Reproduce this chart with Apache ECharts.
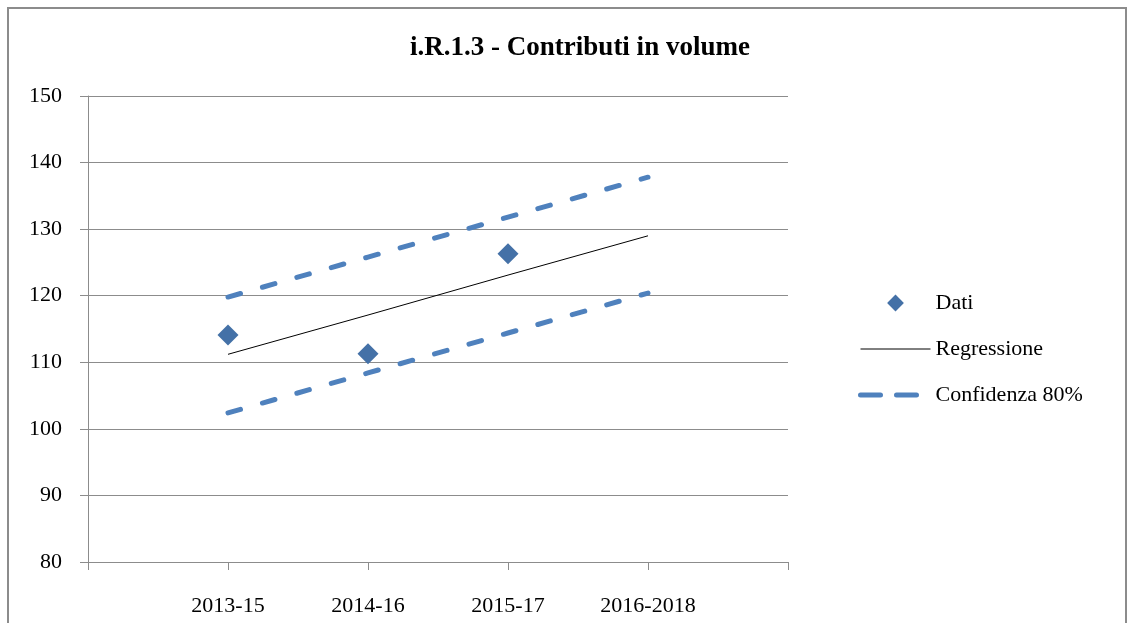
<!DOCTYPE html>
<html>
<head>
<meta charset="utf-8">
<script src="https://cdn.jsdelivr.net/npm/echarts@6/dist/echarts.min.js"></script>
<style>
  html, body { margin: 0; padding: 0; background: #fff; }
  #main { width: 1133px; height: 623px; }
</style>
</head>
<body>
<div id="main"></div>
<script>
// dati
var periodi = ['2013-15', '2014-16', '2015-17', '2016-2018'];
var dati = [114.1, 111.3, 126.3];
var regressione = [111.2, 117.1, 123.1, 129.0];
var confSup = [119.8, 125.8, 131.8, 137.8];
var confInf = [102.4, 108.4, 114.4, 120.4];

// asse con una posizione vuota ai due lati
var assiX = [''].concat(periodi).concat(['']);
function pad (arr) {
  var out = [null].concat(arr);
  while (out.length < assiX.length) out.push(null);
  return out;
}

var myChart = echarts.init(document.getElementById('main'));

var font = 'Liberation Serif';
var blu = '#4F81BD';

var option = {
  animation: false,
  title: {
    text: 'i.R.1.3 - Contributi in volume',
    left: 575,
    textAlign: 'center',
    top: 30,
    textStyle: { fontFamily: font, fontSize: 27, fontWeight: 'bold', color: '#000' }
  },
  graphic: [{
    type: 'rect',
    shape: { x: 8, y: 8, width: 1118, height: 640 },
    style: { fill: 'none', stroke: '#8c8c8c', lineWidth: 2 },
    silent: true
  }],
  legend: {
    orient: 'vertical',
    left: 853,
    top: 287,
    itemWidth: 70,
    itemHeight: 21,
    itemGap: 24,
    textStyle: { fontFamily: font, fontSize: 22, color: '#000', padding: [0, 0, 0, 0] },
    data: [
      { name: 'Dati' },
      { name: 'Regressione', itemStyle: { opacity: 0 }, lineStyle: { width: 1 } },
      { name: 'Confidenza 80%', itemStyle: { opacity: 0 },
        lineStyle: { width: 5, type: [20, 16], cap: 'round' } }
    ]
  },
  grid: { left: 88, top: 96, right: 345, bottom: 61 },
  xAxis: {
    type: 'category',
    boundaryGap: false,
    data: assiX,
    axisLine: { lineStyle: { color: '#8c8c8c' } },
    axisTick: { show: true, length: 8, lineStyle: { color: '#8c8c8c' } },
    axisLabel: { fontFamily: font, fontSize: 22, color: '#000', margin: 33, interval: 0 },
    splitLine: { show: false }
  },
  yAxis: {
    type: 'value',
    min: 80,
    max: 150,
    interval: 10,
    axisLine: { show: true, lineStyle: { color: '#8c8c8c' } },
    axisTick: { show: true, length: 8, lineStyle: { color: '#8c8c8c' } },
    axisLabel: { fontFamily: font, fontSize: 22, color: '#000', margin: 26 },
    splitLine: { lineStyle: { color: '#8c8c8c', width: 1 } }
  },
  series: [
    {
      name: 'Dati',
      type: 'line',
      symbol: 'diamond',
      symbolSize: 21,
      showAllSymbol: true,
      lineStyle: { width: 0, opacity: 0 },
      itemStyle: { color: '#4471A7', opacity: 1 },
      data: pad(dati),
      z: 5
    },
    {
      name: 'Regressione',
      type: 'line',
      symbol: 'none',
      lineStyle: { color: '#000', width: 1 },
      itemStyle: { color: '#000' },
      data: pad(regressione)
    },
    {
      name: 'Confidenza 80%',
      type: 'line',
      symbol: 'none',
      lineStyle: { color: blu, width: 5, type: [13, 22.8], cap: 'round' },
      itemStyle: { color: blu },
      data: pad(confSup)
    },
    {
      name: 'Confidenza 80%',
      type: 'line',
      symbol: 'none',
      lineStyle: { color: blu, width: 5, type: [13, 22.8], cap: 'round' },
      itemStyle: { color: blu },
      data: pad(confInf)
    }
  ]
};

myChart.setOption(option);
</script>
</body>
</html>
